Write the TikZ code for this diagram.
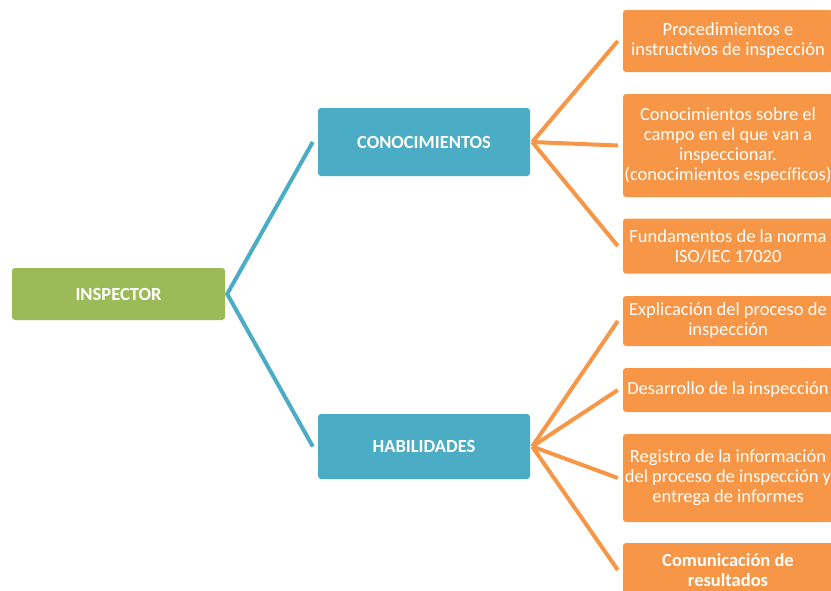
\documentclass[tikz,border=0pt]{standalone}
\usepackage{fontspec}
\setmainfont[Ligatures=NoCommon]{Carlito}
\usepackage{tikz}

\definecolor{boxgreen}{HTML}{9BBB59}
\definecolor{boxblue}{HTML}{4BACC6}
\definecolor{boxorange}{HTML}{F79646}

\begin{document}
\begin{tikzpicture}[x=1pt, y=-1pt,
		main/.style={rectangle, rounded corners=3pt, text=white, font=\fontsize{18.5}{20}\selectfont\bfseries, minimum width=212, inner sep=0pt},
		leaf/.style={rectangle, rounded corners=3pt, fill=boxorange, text=white, font=\fontsize{18.5}{20}\selectfont, align=center, minimum width=210, inner xsep=0pt, inner ysep=0pt},
		blueline/.style={boxblue, line width=4pt},
		orangeline/.style={boxorange, line width=4pt}]
		\clip (0,0) rectangle (831,590);
		% root
		\node[main, fill=boxgreen, minimum width=213, minimum height=52] (insp) at (118.5,294) {INSPECTOR};
		% branches
		\node[main, fill=boxblue, minimum height=68] (conoc) at (424,142) {CONOCIMIENTOS};
		\node[main, fill=boxblue, minimum height=65] (habil) at (424,446.5) {HABILIDADES};
		% leaves conocimientos
		\node[leaf, minimum height=62] (k1) at (728,41) {Procedimientos e\\instructivos de inspección};
		\node[leaf, minimum height=103] (k2) at (728,145.5) {Conocimientos sobre el\\campo en el que van a\\inspeccionar.\\(conocimientos específicos)};
		\node[leaf, minimum height=55] (k3) at (728,246) {Fundamentos de la norma\\ISO/IEC 17020};
		% leaves habilidades
		\node[leaf, minimum height=50] (h1) at (728,321) {Explicación del proceso de\\inspección};
		\node[leaf, minimum height=44] (h2) at (728,390) {Desarrollo de la inspección};
		\node[leaf, minimum height=88] (h3) at (728,478) {Registro de la información\\del proceso de inspección y\\entrega de informes};
		\node[leaf, minimum height=54, font=\fontsize{18.5}{20}\selectfont\bfseries] (h4) at (728,570) {Comunicación de\\resultados};
		% connectors
		\draw[blueline] ([xshift=-5]conoc.west) -- ([xshift=2]insp.east) -- ([xshift=-5]habil.west);
		\foreach \k in {k1,k2,k3}
			\draw[orangeline] ([xshift=2]conoc.east) -- ([xshift=-5]\k.west);
		\foreach \h in {h1,h2,h3,h4}
			\draw[orangeline] ([xshift=2]habil.east) -- ([xshift=-5]\h.west);
	\end{tikzpicture}
\end{document}
